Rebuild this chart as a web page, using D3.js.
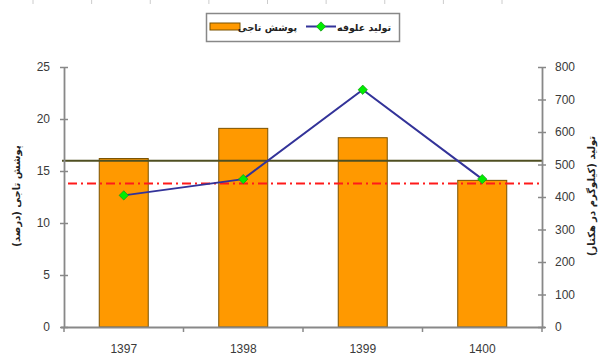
<!DOCTYPE html>
<html>
<head>
<meta charset="utf-8">
<script src="https://cdn.jsdelivr.net/npm/d3@7"></script>
<style>
  html, body { margin: 0; padding: 0; background: #fff; }
  svg { display: block; }
  .tick text { font-family: "Liberation Sans", Arial, sans-serif; font-size: 12px; fill: #3a3a3a; }
  .fa { font-family: "DejaVu Sans", sans-serif; font-weight: bold; fill: #222; }
</style>
</head>
<body>
<svg id="chart" width="607" height="355"></svg>
<script>
// Years on the category axis
const years = ["1397", "1398", "1399", "1400"];
// Canopy cover (%) — bars, left axis
const canopyCover = [16.2, 19.1, 18.2, 14.1];
// Forage production (kg/ha) — line, right axis
const forageYield = [405, 455, 730, 455];
// Axis tick values
const leftTicks = [0, 5, 10, 15, 20, 25];
const rightTicks = [0, 100, 200, 300, 400, 500, 600, 700, 800];
// Reference level on the cover axis (dash-dot line)
const coverReference = 13.8;
// Small ruler marks along the top edge
const rulerMarks = [0, 1, 2, 3, 4, 5, 6, 7, 8];

const labels = {
  cover: "پوشش تاجی",
  yield: "تولید علوفه",
  leftTitle: "پوشش تاجی (درصد)",
  rightTitle: "تولید (کیلوگرم در هکتار)"
};

const svg = d3.select("#chart");
const plot = { left: 64, right: 542, top: 67, bottom: 327 };

const x = d3.scaleBand().domain(years).range([plot.left, plot.right]).padding(0);
const yL = d3.scaleLinear().domain([0, 25]).range([plot.bottom, plot.top]);
const yR = d3.scaleLinear().domain([0, 800]).range([plot.bottom, plot.top]);
const barW = x.bandwidth() * 0.41;

// top ruler marks
const ruler = d3.scaleLinear().domain([0, 8]).range([33, 502]);
svg.append("g").selectAll("line").data(rulerMarks).join("line")
  .attr("x1", d => ruler(d)).attr("x2", d => ruler(d))
  .attr("y1", 0).attr("y2", 4)
  .attr("stroke", "#ccc").attr("stroke-width", 1);

// bars
svg.append("g").selectAll("rect").data(canopyCover).join("rect")
  .attr("x", (d, i) => x(years[i]) + x.bandwidth() / 2 - barW / 2)
  .attr("y", d => yL(d))
  .attr("width", barW)
  .attr("height", d => yL(0) - yL(d))
  .attr("fill", "#FF9900")
  .attr("stroke", "#7a5200")
  .attr("stroke-width", 1);

// mean production level
const meanYield = d3.mean(forageYield);
svg.append("line")
  .attr("x1", plot.left - 2).attr("x2", plot.right + 1)
  .attr("y1", yR(meanYield)).attr("y2", yR(meanYield))
  .attr("stroke", "#4f4f22").attr("stroke-width", 2);

// reference cover level
svg.append("line")
  .attr("x1", plot.left + 4).attr("x2", plot.right - 2)
  .attr("y1", yL(coverReference)).attr("y2", yL(coverReference))
  .attr("stroke", "#ff1a1a").attr("stroke-width", 2)
  .attr("stroke-dasharray", "9,4,2,4");

// axes
const axisColor = "#888";
const gL = svg.append("g").attr("transform", `translate(${plot.left},0)`)
  .call(d3.axisLeft(yL).tickValues(leftTicks).tickSize(4).tickPadding(10));
gL.selectAll(".tick line").clone().attr("x2", 4);
const gR = svg.append("g").attr("transform", `translate(${plot.right},0)`)
  .call(d3.axisRight(yR).tickValues(rightTicks).tickSize(4).tickPadding(9));
gR.selectAll(".tick line").clone().attr("x2", -4);
const gX = svg.append("g").attr("transform", `translate(0,${plot.bottom})`)
  .call(d3.axisBottom(x).tickSize(0).tickPadding(17));
// category boundary ticks
svg.append("g").selectAll("line").data(years.concat(["end"])).join("line")
  .attr("x1", (d, i) => i < years.length ? x(d) : plot.right)
  .attr("x2", (d, i) => i < years.length ? x(d) : plot.right)
  .attr("y1", plot.bottom).attr("y2", plot.bottom + 5)
  .attr("stroke", axisColor).attr("stroke-width", 1.5);
[gL, gR, gX].forEach(g => {
  g.select(".domain").attr("stroke", axisColor).attr("stroke-width", 1.8);
  g.selectAll(".tick line").attr("stroke", axisColor).attr("stroke-width", 1.5);
});
gX.select(".domain").attr("d", `M${plot.left - 3},0.5H${plot.right + 3}`);
gL.select(".domain").attr("d", `M0.5,${plot.top}V${plot.bottom}`);
gR.select(".domain").attr("d", `M0.5,${plot.top}V${plot.bottom}`);

// production line
const line = d3.line()
  .x((d, i) => x(years[i]) + x.bandwidth() / 2)
  .y(d => yR(d));
svg.append("path").datum(forageYield)
  .attr("d", line)
  .attr("fill", "none")
  .attr("stroke", "#333399")
  .attr("stroke-width", 2);
const diamond = d3.symbol().type(d3.symbolDiamond2).size(55);
svg.append("g").selectAll("path").data(forageYield).join("path")
  .attr("transform", (d, i) => `translate(${x(years[i]) + x.bandwidth() / 2},${yR(d)})`)
  .attr("d", diamond)
  .attr("fill", "#00ee00")
  .attr("stroke", "#1a9a1a")
  .attr("stroke-width", 0.8);

// axis titles
svg.append("text").attr("class", "fa")
  .attr("transform", "translate(20,196) rotate(-90)")
  .attr("text-anchor", "middle")
  .style("font-size", "10px")
  .attr("direction", "rtl")
  .text(labels.leftTitle);
svg.append("text").attr("class", "fa")
  .attr("transform", "translate(595,196) rotate(-90)")
  .attr("text-anchor", "middle")
  .style("font-size", "10px")
  .attr("direction", "rtl")
  .text(labels.rightTitle);

// legend
const lg = svg.append("g");
lg.append("rect").attr("x", 206.5).attr("y", 13.5).attr("width", 193).attr("height", 28)
  .attr("fill", "#fff").attr("stroke", "#888").attr("stroke-width", 1.5);
lg.append("rect").attr("x", 210).attr("y", 23).attr("width", 30).attr("height", 7)
  .attr("fill", "#FF9900").attr("stroke", "#7a5200").attr("stroke-width", 1);
lg.append("text").attr("class", "fa").attr("x", 297).attr("y", 31)
  .attr("text-anchor", "end").style("font-size", "9.5px").text(labels.cover);
lg.append("line").attr("x1", 306).attr("x2", 336).attr("y1", 26.5).attr("y2", 26.5)
  .attr("stroke", "#333399").attr("stroke-width", 2);
lg.append("path").attr("transform", "translate(321,26.5)").attr("d", diamond)
  .attr("fill", "#00ee00").attr("stroke", "#1a9a1a").attr("stroke-width", 0.8);
lg.append("text").attr("class", "fa").attr("x", 391).attr("y", 31)
  .attr("text-anchor", "end").style("font-size", "9.5px").text(labels.yield);
</script>
</body>
</html>
